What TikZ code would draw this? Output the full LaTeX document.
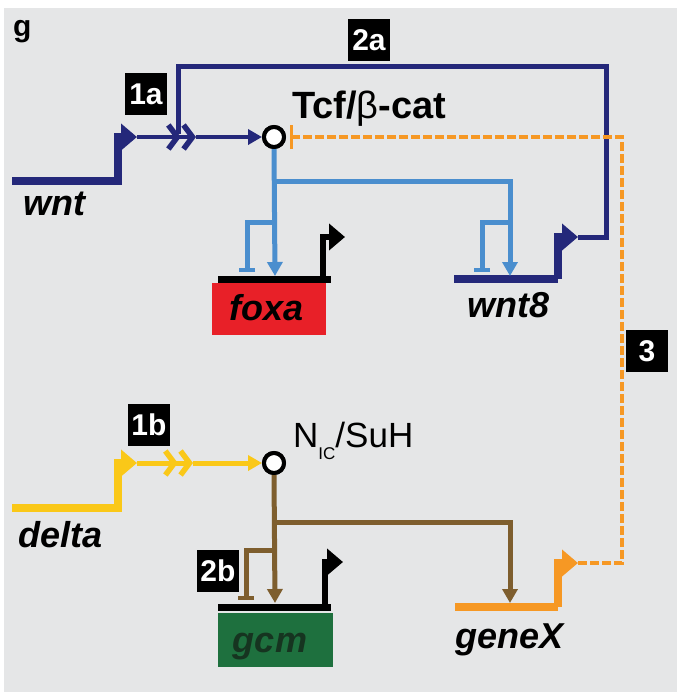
\documentclass[tikz,border=0pt]{standalone}
\usepackage{fontspec}
\setmainfont{Liberation Sans}
\usetikzlibrary{arrows.meta}
\definecolor{bg}{RGB}{229,230,231}
\definecolor{navy}{RGB}{36,40,122}
\definecolor{lblue}{RGB}{74,142,206}
\definecolor{orng}{RGB}{246,152,36}
\definecolor{yel}{RGB}{250,200,24}
\definecolor{brn}{RGB}{126,94,46}
\definecolor{fred}{RGB}{232,32,40}
\definecolor{fgreen}{RGB}{30,112,62}
\definecolor{gcmtext}{RGB}{22,52,32}
\begin{document}
\begin{tikzpicture}[x=1pt,y=-1pt,
  gene/.style={font=\fontsize{36}{40}\selectfont\bfseries\itshape, inner sep=0},
  numbox/.style={fill=black, text=white, font=\fontsize{30}{32}\selectfont\bfseries, minimum width=42pt, minimum height=42pt, inner sep=0},
  junction/.style={circle, draw=black, line width=4pt, fill=white, minimum size=20pt, inner sep=0},
  flagtip/.style={-{Triangle[length=16pt,width=26pt]}},
  chev/.style={-{Straight Barb[length=9pt,width=24pt,line width=5.5pt]Straight Barb[length=9pt,width=24pt,line width=5.5pt]}},
  acttip/.style={-{Triangle[length=14pt,width=15pt]}},
  reptip/.style={-{Bar[width=16pt,line width=4pt]}},
  genebar/.style={line width=7pt},
  gline/.style={line width=8pt},
  thinline/.style={line width=4.5pt},
  midline/.style={line width=5pt}
]
\useasboundingbox (0,0) rectangle (679,694);
\fill[white] (0,0) rectangle (679,694);
\fill[bg] (4,8) rectangle (677,692);

% junction nodes
\node[junction] (tcf) at (274,137) {};
\node[junction] (nic) at (274,463) {};

% coordinates
\coordinate (wntA) at (12,181);
\coordinate (wntB) at (118,181);
\coordinate (wntF) at (137,137);
\coordinate (wntC) at (196,137);
\coordinate (w8A) at (454,279);
\coordinate (w8B) at (558,279);
\coordinate (w8F) at (578,237);
\coordinate (loopR) at (606,237);
\coordinate (loopTR) at (606,66);
\coordinate (loopTL) at (178,66);
\coordinate (loopEnd) at (178,134);
\coordinate (fxA) at (218,279);
\coordinate (fxB) at (331,279);
\coordinate (fxP) at (323,279);
\coordinate (fxF) at (345,237);
\coordinate (dlA) at (12,508);
\coordinate (dlB) at (118,508);
\coordinate (dlF) at (137,463);
\coordinate (dlC) at (193,463);
\coordinate (gxA) at (455,607);
\coordinate (gxB) at (558,607);
\coordinate (gxF) at (578,563);
\coordinate (dashR) at (622,563);
\coordinate (dashTR) at (622,137);
\coordinate (dashEnd) at (290,137);
\coordinate (gcA) at (218,607);
\coordinate (gcB) at (331,607);
\coordinate (gcP) at (325,607);
\coordinate (gcF) at (343,562);

% gene boxes
\fill[fred] (212,283) rectangle (326,335);
\node[gene, anchor=base] (foxa) at (267,320) {foxa};
\fill[fgreen] (218,613) rectangle (333,667);
\node[gene, anchor=base, text=gcmtext] (gcm) at (270,652) {gcm};

% wnt input (navy)
\draw[navy, gline, flagtip] (wntA) -- (wntB) |- (wntF);
\draw[navy, thinline, chev] (wntF) -- (wntC);
\draw[navy, thinline, acttip] (wntC) -- (tcf.west);

% wnt8 gene and loop 2a
\draw[navy, gline] (w8A) -- (w8B);
\draw[navy, gline, flagtip] (w8B) |- (w8F);
\draw[navy, midline] (w8F) -- (loopR) -- (loopTR) -- (loopTL) -- (loopEnd);

% foxa gene
\draw[black, genebar] (fxA) -- (fxB);
\draw[black, line width=6pt, flagtip] (fxP) |- (fxF);

% light blue outputs of Tcf
\draw[lblue, midline, acttip] (tcf.south) -- (275,276);
\draw[lblue, midline, acttip] (275,181) -| (510,276);
\draw[lblue, midline, reptip] (275,222) -| (247,272);
\draw[lblue, midline, reptip] (510,222) -| (482,272);

% delta input (yellow)
\draw[yel, gline, flagtip] (dlA) -- (dlB) |- (dlF);
\draw[yel, midline, chev] (dlF) -- (dlC);
\draw[yel, midline, acttip] (dlC) -- (nic.west);

% gcm gene
\draw[black, genebar] (gcA) -- (gcB);
\draw[black, line width=6pt, flagtip] (gcP) |- (gcF);

% brown outputs of N
\draw[brn, midline, acttip] (nic.south) -- (275,603);
\draw[brn, midline, acttip] (275,522) -| (510,603);
\draw[brn, midline, reptip] (275,550) -| (246,600);

% geneX (orange)
\draw[orng, gline] (gxA) -- (gxB);
\draw[orng, gline, flagtip] (gxB) |- (gxF);
\draw[orng, line width=3.5pt, dash pattern=on 9pt off 3pt, -{Bar[width=24pt,line width=3pt]}] (gxF) -- (dashR) -- (dashTR) -- (dashEnd);

% redraw junctions on top
\node[junction] at (tcf) {};
\node[junction] at (nic) {};

% labels
\node[anchor=base west, inner sep=0, font=\fontsize{30}{32}\selectfont\bfseries] (glabel) at (13,36) {g};
\node[anchor=base west, inner sep=0, font=\fontsize{38}{40}\selectfont] (tcflabel) at (292,118) {\textbf{Tcf/}β\textbf{-cat}};
\node[anchor=base west, inner sep=0, font=\fontsize{35}{40}\selectfont] (niclabel) at (293,447) {N\raisebox{-12pt}{\fontsize{17}{18}\selectfont IC}/SuH};
\node[gene, anchor=base west] (wnt) at (23,215) {wnt};
\node[gene, anchor=base west] (wnt8) at (467,317) {wnt8};
\node[gene, anchor=base west] (delta) at (18,547) {delta};
\node[gene, anchor=base west] (geneX) at (455,648) {geneX};

% number boxes
\node[numbox] (n1a) at (146,94) {1a};
\node[numbox] (n2a) at (369,40) {2a};
\node[numbox] (n3) at (647,351) {3};
\node[numbox] (n1b) at (149,425) {1b};
\node[numbox] (n2b) at (218,571) {2b};
\end{tikzpicture}
\end{document}
